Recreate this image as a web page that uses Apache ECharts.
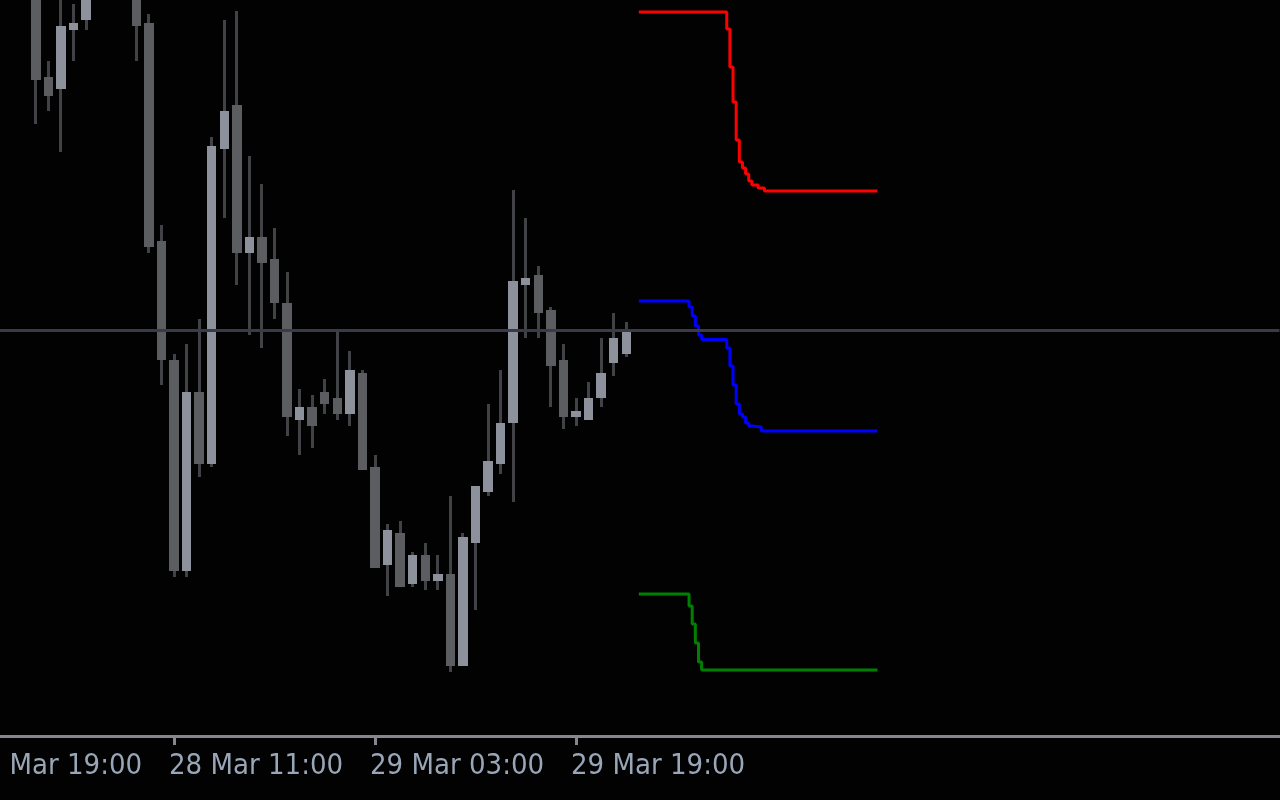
<!DOCTYPE html>
<html>
<head>
<meta charset="utf-8">
<script src="https://cdn.jsdelivr.net/npm/echarts@6/dist/echarts.min.js"></script>
<style>
html,body{margin:0;padding:0;background:#020203;}
#chart{width:1280px;height:800px;}
</style>
</head>
<body>
<div id="chart"></div>
<script>
// Hour index of each candle (0 = 28 Mar 11:00)
const candleHours = [-14,-13,-12,-11,-10,-9,-8,-7,-6,-5,-4,-3,-2,-1,0,1,2,3,4,5,6,7,8,9,10,11,12,13,14,15,16,17,18,19,20,21,22,23,24,25,26,27,28,29,30,31,32,33,34,35,36];
const opens  = [1040,1030,1045,1035,923,911,970,980,1018,1040,1025,1035,977,759,640,429,608,536,851,895,747,763,741,697,580,593,608,602,586,627,533,435,467,416,445,419,426,334,457,508,536,577,715,725,690,640,583,580,602,637,646];
const closes = [1030,1045,1035,920,904,974,977,1018,1040,1025,1035,974,753,640,429,608,536,854,889,747,763,737,697,583,593,574,596,586,630,530,432,470,413,445,419,426,334,463,514,539,577,719,722,687,634,583,589,602,627,662,671];
const lows   = [1020,1022,1025,876,889,848,939,970,1010,1015,1012,939,747,615,423,423,523,533,782,715,665,652,681,564,545,552,586,580,574,530,432,404,413,413,410,410,328,334,390,504,526,498,662,662,593,571,574,580,593,624,643];
const highs  = [1050,1055,1060,1045,939,1012,996,1030,1050,1055,1048,1045,986,775,646,656,681,863,980,989,844,816,772,728,611,605,621,670,649,630,545,476,479,448,457,445,504,467,514,596,630,810,782,734,693,656,602,618,662,687,678];

// Axis tick positions (hours) and their labels
const tickHours = [-16, 0, 16, 32];
const tickLabels = ['27 Mar 19:00', '28 Mar 11:00', '29 Mar 03:00', '29 Mar 19:00'];

// Horizontal price line
const priceLine = 670;

// Indicator step lines (hours, value)
const redX   = [37, 44, 44.25, 44.5, 44.75, 45, 45.25, 45.5, 45.75, 46, 46.5, 47, 56];
const redY   = [988, 971, 933, 898, 860, 838, 832, 826, 819, 815, 812, 809, 809];
const blueX  = [37, 41, 41.25, 41.5, 41.75, 42, 44, 44.25, 44.5, 44.75, 45, 45.25, 45.5, 45.75, 46, 46.75, 56];
const blueY  = [699, 693, 684, 674, 665, 660.5, 652, 634, 615, 596, 586, 583, 577, 574, 573, 569, 569];
const greenX = [37, 41, 41.25, 41.5, 41.75, 42, 56];
const greenY = [406, 394, 376, 357, 338, 330, 330];

const candleData = candleHours.map((t, i) => [t, opens[i], closes[i], lows[i], highs[i]]);
const zip = (xs, ys) => xs.map((x, i) => [x, ys[i]]);

const UP = '#8d919c', DOWN = '#5c5d61', WICK = '#414246';

const chart = echarts.init(document.getElementById('chart'), null, {renderer: 'canvas'});
chart.setOption({
  backgroundColor: '#020203',
  animation: false,
  grid: {left: -27, right: 0.5, top: 0, bottom: 64, outerBoundsMode: 'none', containLabel: false},
  xAxis: {
    type: 'value', min: -16, max: 88,
    splitLine: {show: false},
    axisLine: {show: true, onZero: false, lineStyle: {color: '#86878e', width: 3}},
    axisTick: {show: true, customValues: tickHours, length: 9, lineStyle: {color: '#86878e', width: 3}},
    axisLabel: {
      show: true, customValues: tickHours, align: 'left', margin: 16, padding: [0, 0, 0, -5],
      color: '#98a6b8', fontSize: 29, fontFamily: "'DejaVu Sans Condensed', 'DejaVu Sans', sans-serif",
      formatter: v => { const k = tickHours.indexOf(v); return k >= 0 ? tickLabels[k] : ''; }
    }
  },
  yAxis: {
    type: 'value', min: 264, max: 1000, show: false,
    splitLine: {show: false}
  },
  series: [
    {
      type: 'line', data: [], z: 1, silent: true,
      markLine: {
        silent: true, symbol: ['none', 'none'], animation: false,
        label: {show: false},
        lineStyle: {color: '#3a3b48', width: 3, type: 'solid'},
        data: [{yAxis: priceLine}]
      }
    },
    {
      type: 'custom', z: 2, clip: true,
      data: candleData,
      renderItem: (params, api) => {
        const t = api.value(0), o = api.value(1), c = api.value(2), l = api.value(3), h = api.value(4);
        const pO = api.coord([t, o]), pC = api.coord([t, c]);
        const pL = api.coord([t, l]), pH = api.coord([t, h]);
        const cx = pO[0];
        const bw = api.size([1, 0])[0] * 0.756;
        const left = Math.round(cx - bw / 2), right = Math.round(cx + bw / 2);
        const top = Math.round(Math.min(pO[1], pC[1]));
        const bot = Math.round(Math.max(pO[1], pC[1]));
        const wl = Math.round(cx - 1.5);
        return {
          type: 'group',
          children: [
            {type: 'rect', shape: {x: wl, y: Math.round(pH[1]), width: 3, height: Math.round(pL[1]) - Math.round(pH[1])}, style: {fill: WICK}},
            {type: 'rect', shape: {x: left, y: top, width: right - left, height: Math.max(bot - top, 2)}, style: {fill: c >= o ? UP : DOWN}}
          ]
        };
      }
    },
    {type: 'line', z: 3, step: 'end', showSymbol: false, silent: true, data: zip(redX, redY), lineStyle: {color: '#ff0000', width: 3}},
    {type: 'line', z: 3, step: 'end', showSymbol: false, silent: true, data: zip(blueX, blueY), lineStyle: {color: '#0000ff', width: 3}},
    {type: 'line', z: 3, step: 'end', showSymbol: false, silent: true, data: zip(greenX, greenY), lineStyle: {color: '#008000', width: 3}}
  ]
});
</script>
</body>
</html>
